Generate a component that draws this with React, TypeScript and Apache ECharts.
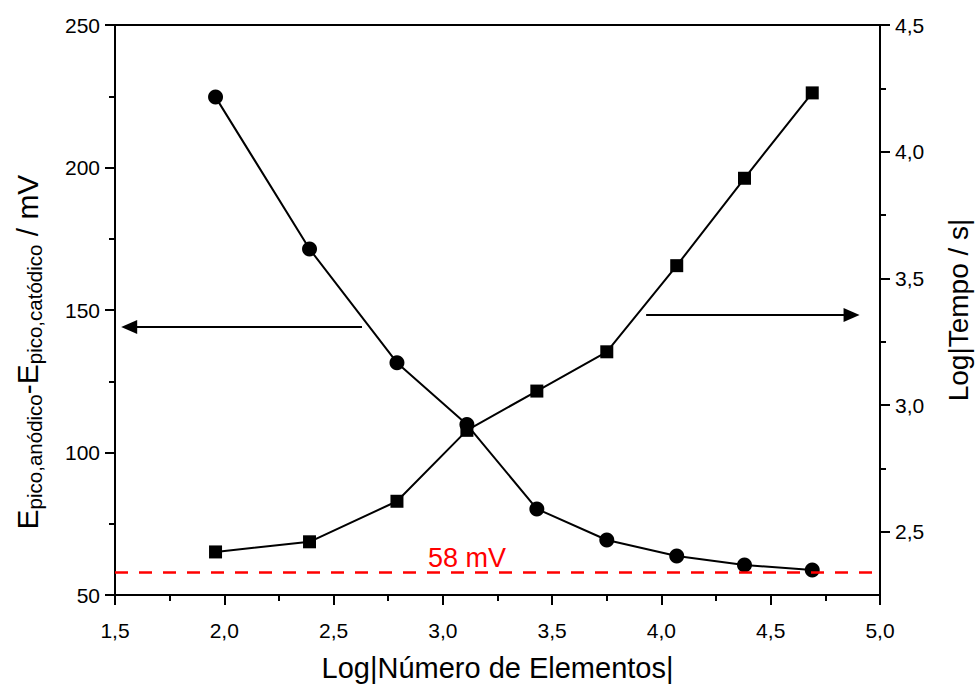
import React, { useEffect, useRef } from "react";
import * as echarts from "echarts";

const xValues = [1.96, 2.39, 2.79, 3.11, 3.43, 3.75, 4.07, 4.38, 4.69];
const deltaE = [224.7, 171.4, 131.5, 109.8, 80.2, 69.3, 63.7, 60.5, 58.8];
const logTempo = [2.42, 2.46, 2.62, 2.9, 3.055, 3.21, 3.55, 3.895, 4.232];
const refLine = 58;
const leftArrow = [[2.63, 144], [1.565, 144]];
const rightArrow = [[3.93, 3.355], [4.87, 3.355]];

const FONT = "'Liberation Sans', Arial, sans-serif";
const comma = (v: number) => v.toFixed(1).replace(".", ",");

export default function App() {
  const ref = useRef<HTMLDivElement>(null);
  useEffect(() => {
    const chart = echarts.init(ref.current!, null, { renderer: "svg" });
    const axisLine = { show: true, lineStyle: { color: "#000", width: 2 } };
    chart.setOption({
      animation: false,
      backgroundColor: "#fff",
      grid: {
        left: 115, right: 96, top: 25, bottom: 90,
        outerBoundsMode: "none", containLabel: false,
        show: true, borderColor: "#000", borderWidth: 2,
      },
      xAxis: {
        type: "value", min: 1.5, max: 5.0, interval: 0.5,
        name: "Log|Número de Elementos|",
        nameLocation: "middle", nameGap: 58,
        nameTextStyle: { fontFamily: FONT, fontSize: 29, color: "#000" },
        axisLine, splitLine: { show: false },
        axisTick: { show: true, inside: false, length: 10, lineStyle: { color: "#000", width: 2 } },
        minorTick: { show: true, splitNumber: 2, length: 6, lineStyle: { color: "#000", width: 2 } },
        axisLabel: { fontFamily: FONT, fontSize: 21, color: "#000", margin: 25, formatter: comma },
      },
      yAxis: [
        {
          type: "value", min: 50, max: 250, interval: 50, position: "left",
          name: "{e|E}{s|pico,anódico}{e|-E}{s|pico,catódico}{e| / mV}",
          nameLocation: "middle", nameGap: 70, nameRotate: 90,
          nameTextStyle: {
            fontFamily: FONT, color: "#000",
            padding: [0, 84, 0, 0],
            rich: {
              e: { fontFamily: FONT, fontSize: 30, color: "#000", lineHeight: 36, verticalAlign: "middle" },
              s: { fontFamily: FONT, fontSize: 20.5, color: "#000", lineHeight: 18, verticalAlign: "bottom" },
            },
          },
          axisLine, splitLine: { show: false },
          axisTick: { show: true, inside: false, length: 10, lineStyle: { color: "#000", width: 2 } },
          minorTick: { show: true, splitNumber: 2, length: 6, lineStyle: { color: "#000", width: 2 } },
          axisLabel: { fontFamily: FONT, fontSize: 21, color: "#000", margin: 15 },
        },
        {
          type: "value", min: 2.25, max: 4.5, position: "right",
          name: "Log|Tempo / s|",
          nameLocation: "middle", nameGap: 64, nameRotate: 90,
          nameTextStyle: { fontFamily: FONT, fontSize: 28, color: "#000" },
          axisLine, splitLine: { show: false },
          axisTick: { show: true, inside: false, length: 10, lineStyle: { color: "#000", width: 2 },
            customValues: [2.5, 3.0, 3.5, 4.0, 4.5] },
          minorTick: { show: false },
          axisLabel: { fontFamily: FONT, fontSize: 21, color: "#000", margin: 15, formatter: comma,
            customValues: [2.5, 3.0, 3.5, 4.0, 4.5] },
        },
        {
          type: "value", min: 2.25, max: 4.5, position: "right",
          axisLine: { show: false }, splitLine: { show: false }, axisLabel: { show: false },
          axisTick: { show: true, inside: false, length: 6, lineStyle: { color: "#000", width: 2 },
            customValues: [2.75, 3.25, 3.75, 4.25] },
        },
      ],
      series: [
        {
          type: "line", yAxisIndex: 0,
          data: xValues.map((x, i) => [x, deltaE[i]]),
          symbol: "circle", symbolSize: 15,
          lineStyle: { color: "#000", width: 2 },
          itemStyle: { color: "#000" },
          markLine: {
            silent: true, animation: false,
            data: [
              { yAxis: refLine, symbol: "none", lineStyle: { color: "#f00", width: 2.5, type: [13, 11] }, label: { show: false } },
              [
                { coord: leftArrow[0], symbol: "none" },
                { coord: leftArrow[1], symbol: "triangle", symbolSize: [14, 16] },
              ],
            ],
            lineStyle: { color: "#000", width: 2, type: "solid" },
            label: { show: false },
            symbol: ["none", "none"],
          },
          markPoint: {
            silent: true,
            symbol: "rect", symbolSize: 1,
            itemStyle: { color: "rgba(0,0,0,0)" },
            label: { show: true, position: "top", distance: 0, formatter: "58 mV", color: "#f00", fontFamily: FONT, fontSize: 27 },
            data: [{ coord: [3.11, refLine] }],
          },
        },
        {
          type: "line", yAxisIndex: 1,
          data: xValues.map((x, i) => [x, logTempo[i]]),
          symbol: "rect", symbolSize: 13,
          lineStyle: { color: "#000", width: 2 },
          itemStyle: { color: "#000" },
          markLine: {
            silent: true, animation: false,
            data: [
              [
                { coord: rightArrow[0], symbol: "none" },
                { coord: rightArrow[1], symbol: "triangle", symbolSize: [14, 16] },
              ],
            ],
            lineStyle: { color: "#000", width: 2, type: "solid" },
            label: { show: false },
            symbol: ["none", "none"],
          },
        },
      ],
    });
    return () => chart.dispose();
  }, []);
  return <div ref={ref} style={{ position: "fixed", left: 0, top: 0, width: 976, height: 685 }} />;
}
